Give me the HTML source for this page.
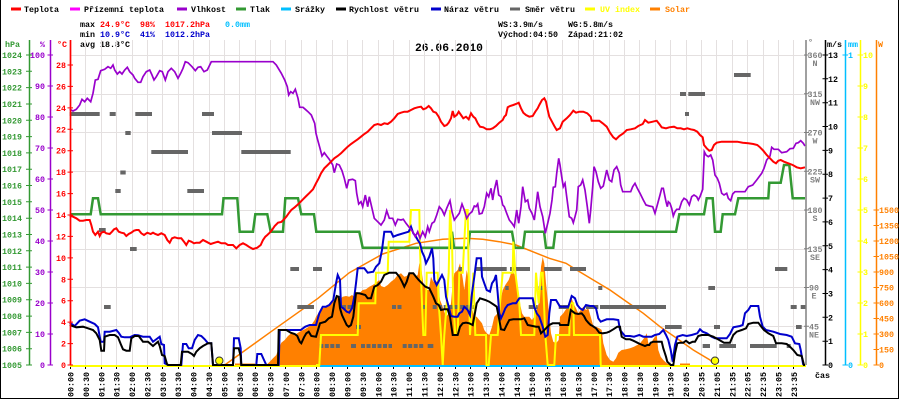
<!DOCTYPE html>
<html><head><meta charset="utf-8"><style>
html,body{margin:0;padding:0;background:#fff;}
svg{display:block;}
text{font-family:"Liberation Mono",monospace;font-size:8.33px;font-weight:bold;}
</style></head><body>
<svg width="900" height="400" viewBox="0 0 900 400" xmlns="http://www.w3.org/2000/svg">
<rect x="0" y="0" width="900" height="400" fill="#fff"/>
<path d="M0.5 0V398.5H898.5V0" fill="none" stroke="#000" stroke-width="1"/>

<g stroke-width="3">
<line x1="11" y1="9" x2="21" y2="9" stroke="#ff0000"/>
<line x1="70" y1="9" x2="80" y2="9" stroke="#ff00ff"/>
<line x1="177" y1="9" x2="187" y2="9" stroke="#9900cc"/>
<line x1="236" y1="9" x2="246" y2="9" stroke="#339933"/>
<line x1="281" y1="9" x2="291" y2="9" stroke="#00bfff"/>
<line x1="336" y1="9" x2="346" y2="9" stroke="#000"/>
<line x1="431" y1="9" x2="441" y2="9" stroke="#0000cc"/>
<line x1="510" y1="9" x2="520" y2="9" stroke="#666"/>
<line x1="585" y1="9" x2="595" y2="9" stroke="#ffff00"/>
<line x1="650" y1="9" x2="660" y2="9" stroke="#ff8000"/>
</g>
<g fill="#000">
<text x="24" y="12">Teplota</text>
<text x="84" y="12">Přízemní teplota</text>
<text x="191" y="12">Vlhkost</text>
<text x="250" y="12">Tlak</text>
<text x="295" y="12">Srážky</text>
<text x="349" y="12">Rychlost větru</text>
<text x="444" y="12">Náraz větru</text>
<text x="525" y="12">Směr větru</text>
<text x="600" y="12" fill="#ffff00">UV index</text>
<text x="665" y="12" fill="#ff8000">Solar</text>
</g>

<text x="80" y="27" xml:space="preserve">max <tspan fill="#ff0000">24.9°C  98%  1017.2hPa</tspan>   <tspan fill="#00bfff">0.0mm</tspan></text>
<text x="80" y="37" xml:space="preserve">min <tspan fill="#0000cc">10.9°C  41%  1012.2hPa</tspan></text>
<text x="80" y="47" xml:space="preserve">avg 18.8°C</text>
<text x="498" y="27" xml:space="preserve">WS:3.9m/s     WG:5.8m/s</text>
<text x="498" y="37" xml:space="preserve">Východ:04:50  Západ:21:02</text>
<text x="415" y="51" style="font-size:11.33px;font-weight:bold">26.06.2010</text>

<path d="M85.5 40V365M101.5 40V365M116.5 40V365M132.5 40V365M147.5 40V365M162.5 40V365M178.5 40V365M193.5 40V365M209.5 40V365M224.5 40V365M239.5 40V365M255.5 40V365M270.5 40V365M285.5 40V365M301.5 40V365M316.5 40V365M332.5 40V365M347.5 40V365M362.5 40V365M378.5 40V365M393.5 40V365M409.5 40V365M424.5 40V365M439.5 40V365M455.5 40V365M470.5 40V365M486.5 40V365M501.5 40V365M516.5 40V365M532.5 40V365M547.5 40V365M562.5 40V365M578.5 40V365M593.5 40V365M609.5 40V365M624.5 40V365M639.5 40V365M655.5 40V365M670.5 40V365M686.5 40V365M701.5 40V365M716.5 40V365M732.5 40V365M747.5 40V365M763.5 40V365M778.5 40V365M793.5 40V365
M70 55.5H806M70 94.5H806M70 132.5H806M70 171.5H806M70 210.5H806M70 249.5H806M70 287.5H806M70 326.5H806" stroke="#e4e0e0" stroke-width="1" fill="none"/>

<path d="M70.5 366V369M85.5 366V369M101.5 366V369M116.5 366V369M132.5 366V369M147.5 366V369M162.5 366V369M178.5 366V369M193.5 366V369M209.5 366V369M224.5 366V369M239.5 366V369M255.5 366V369M270.5 366V369M285.5 366V369M301.5 366V369M316.5 366V369M332.5 366V369M347.5 366V369M362.5 366V369M378.5 366V369M393.5 366V369M409.5 366V369M424.5 366V369M439.5 366V369M455.5 366V369M470.5 366V369M486.5 366V369M501.5 366V369M516.5 366V369M532.5 366V369M547.5 366V369M562.5 366V369M578.5 366V369M593.5 366V369M609.5 366V369M624.5 366V369M639.5 366V369M655.5 366V369M670.5 366V369M686.5 366V369M701.5 366V369M716.5 366V369M732.5 366V369M747.5 366V369M763.5 366V369M778.5 366V369M793.5 366V369" stroke="#000" stroke-width="1"/>

<polygon fill="#ff8000" points="264,365 266.3,365 269.7,361.7 273,358.3 276.3,355 278.7,348.3 281.3,342.7 284.7,340 288,336 291.3,333.3 294.7,335 298,332.7 301.3,330.7 304.7,329.3 308,327.3 311.3,325 314.7,320 316,316.7 319.3,311.7 322.7,308.3 327.7,306.7 331,303.3 334.3,300.7 336.7,295 340,299.3 342.7,296.7 346,296 349.3,296.7 352,295 354.3,296.7 356.7,291.7 359.3,293.3 362.7,290 366,289.3 369.3,286.7 372.7,285 376,282.7 379.3,280 381,286 384.3,287.3 387.7,285 391,281.7 394.3,279.3 397.7,275 401,273.3 404.3,276.7 406.7,276 409.3,272.7 412.7,274 415.3,276.7 417.7,275 419.3,263.3 421,266.7 423.3,283.3 426,290 428.7,290 431,276.7 433.3,281.7 435.3,280 437.7,283.3 440,300 442.7,306.7 446,316.7 448.7,313.3 451,303.3 452.7,283.3 454.3,273.3 456,271.7 457.7,270 460,263.3 462.7,278.3 464.3,290 466.7,270 468.7,280 470,293.3 472,308.3 474.3,316.7 476.7,316.7 479.3,320 482,323.3 484.3,330 486.7,333.3 489.3,335 492,326.7 494.3,316.7 497.7,313.3 501,298.3 502.7,290 505.3,285 508.7,280 511,273.3 512.7,270 515.3,276.7 517.7,290 520,303.3 522,313.3 524.3,316.7 526.7,316.7 529.3,316.7 532,320 534.3,316.7 536.7,310 538.7,303.3 541,266.7 542.7,256.7 544.3,263.3 546,283.3 547.7,300 549.3,316.7 551,333.3 553.3,341.7 556,343.3 558.7,340 560,316.7 563.3,313.3 566.7,308.3 570,303.3 571.7,298.3 573.3,303.3 576,308.3 578.3,313.3 580.7,310 583.3,306.7 586,310 588.3,308.3 590.7,316.7 593.3,326 596,326.7 599.3,328.3 601.7,330 603.3,343.3 606.7,355 610,360 613.3,361.7 616,358.3 618.3,352.7 621.7,350 626,349.3 630,348.3 634,346.7 637.3,345 640,343.3 642.7,340 645,336.7 646.7,333.3 648.3,343.3 650.7,345 652.7,340 655,336.7 656.7,335 658.3,350 660.7,356.7 663.3,360 666.7,363.3 670,365"/>
<rect x="235" y="363.5" width="20" height="1.5" fill="#ff8000"/>
<rect x="680" y="363.5" width="10" height="1.5" fill="#ff8000"/>

<polyline fill="none" stroke="#ff8000" stroke-width="1.5" points="224.7,365 271,331.7 318,298.3 349.3,272.7 382.7,254 416,243.3 442.7,239.3 466,238.3 482.7,239.3 499.3,241.7 516,245 532.7,251.7 549.3,258.3 566,263.3 576.7,270 593.3,280 610,290 626.7,301.7 643.3,313.3 660,326.7 676.7,338.3 693.3,350 710,360 715,365"/>

<g fill="#666">
<rect x="69.7" y="112" width="30" height="4"/><rect x="109.7" y="112" width="6" height="4"/><rect x="135.3" y="112" width="16.7" height="4"/><rect x="202" y="112" width="12" height="4"/>
<rect x="125.3" y="131" width="5.4" height="4"/><rect x="212" y="131" width="30" height="4"/>
<rect x="151.3" y="150" width="36.7" height="4"/><rect x="241.3" y="150" width="49.4" height="4"/>
<rect x="120.3" y="170.5" width="5.4" height="4"/><rect x="115.3" y="189" width="5.4" height="4"/><rect x="187.3" y="189" width="16.7" height="4"/>
<rect x="99" y="228" width="6.7" height="4"/><rect x="130" y="247" width="6.7" height="4"/>
<rect x="290.3" y="267" width="8.7" height="4"/><rect x="313" y="267" width="9" height="4"/><rect x="458.7" y="267" width="4" height="4"/><rect x="475.3" y="267" width="31.4" height="4"/><rect x="510" y="267" width="20" height="4"/><rect x="544" y="267" width="17.7" height="4"/><rect x="570" y="267" width="16" height="4"/><rect x="775" y="267" width="12.3" height="4"/>
<rect x="505.3" y="286" width="3.4" height="4"/><rect x="538.7" y="286" width="4" height="4"/><rect x="598.3" y="286" width="4" height="4"/><rect x="708.3" y="286" width="6.7" height="4"/>
<rect x="104" y="305" width="6.7" height="4"/><rect x="297.3" y="305" width="16.7" height="4"/><rect x="528.7" y="305" width="9" height="4"/><rect x="558.7" y="305" width="11.3" height="4"/><rect x="586" y="305" width="12.3" height="4"/><rect x="600" y="305" width="66" height="4"/><rect x="790.7" y="305" width="6" height="4"/><rect x="800.7" y="305" width="5.3" height="4"/>
<rect x="356" y="325" width="5" height="4"/><rect x="665" y="325" width="16.7" height="4"/><rect x="714" y="325" width="6" height="4"/><rect x="796" y="325" width="5.7" height="4"/>
<rect x="351" y="344" width="5" height="4"/><rect x="427.7" y="344" width="5.6" height="4"/><rect x="702.7" y="344" width="7.3" height="4"/><rect x="719.3" y="344" width="16.7" height="4"/><rect x="750" y="344" width="26.7" height="4"/><rect x="786.7" y="344" width="4" height="4"/>
<rect x="680" y="92" width="6" height="4"/><rect x="688.3" y="92" width="16.7" height="4"/><rect x="685" y="112" width="4" height="4"/><rect x="734" y="73" width="16.7" height="4"/>
</g>
<g stroke="#666" stroke-width="4" stroke-dasharray="4 1.5">
<line x1="342" y1="307" x2="352" y2="307"/><line x1="392" y1="307" x2="402" y2="307"/><line x1="422.7" y1="307" x2="427.7" y2="307"/><line x1="432.7" y1="307" x2="474.3" y2="307"/>
<line x1="319.3" y1="346" x2="340" y2="346"/><line x1="361" y1="346" x2="392" y2="346"/><line x1="402.7" y1="346" x2="423.3" y2="346"/>
</g>

<polyline fill="none" stroke="#339933" stroke-width="2.5" points="70,214.3 90.7,214.3 93,198.3 98,198.3 100.7,214.3 222,214.3 223.5,198.3 237.3,198.3 239.7,231.7 253,231.7 255.3,214.3 267.3,214.3 270.7,231.7 283,231.7 285.3,198.3 298,198.3 301.3,214.3 314,214.3 316.3,231.7 359.3,231.7 362.7,247.7 451,247.7 452,231.7 454,247.7 468,247.7 470,231.7 512,231.7 514.7,247.7 523,247.7 525,231.7 544,231.7 546,247.7 553.3,247.7 555.3,231.7 676,231.7 679.3,214.3 704,214.3 706.7,198.3 712.7,198.3 715,231.7 720.7,231.7 722.7,214.3 735,214.3 738.3,198.3 768.3,198.3 769.3,182.7 780.7,182.7 784,165 789.3,165 792.7,198.3 805,198.3"/>

<line x1="70" y1="366" x2="320" y2="366" stroke="#ffff00" stroke-width="2"/>
<line x1="320" y1="366" x2="600" y2="366" stroke="#00bfff" stroke-width="2"/>
<line x1="600" y1="366" x2="806" y2="366" stroke="#ffff00" stroke-width="2"/>

<polyline fill="none" stroke="#ffff00" stroke-width="2" points="316,365 319.3,365 321,335 357.7,335 358.7,303.3 375.3,303.3 376,272.7 387.7,272.7 388.7,241.7 409.3,241.7 411,210 419.3,210 420,250 422,303.3 423.3,335 425.3,335 426.7,272.7 437.7,272.7 438.7,303.3 441,335 442.7,365 444.3,335 446.7,303.3 448.7,272.7 450,210 452,241.7 453.3,303.3 455.3,335 457.7,335 459.3,272.7 462.7,272.7 464.3,241.7 466,210 467.7,210 468.7,272.7 470,335 472,303.3 473.3,272.7 475.3,335 486,335 486.5,365 488.7,365 491,335 497.7,335 500,303.3 502.7,272.7 512.7,272.7 513.3,241.7 515.3,272.7 519.3,303.3 521,335 534.3,335 536,272.7 538.7,303.3 541,272.7 542.7,272.7 545.3,335 547.7,365 554.3,365 556,335 569.3,335 570,303.3 573.3,303.3 574,335 600,335 600.7,365"/>

<polyline fill="none" stroke="#0000cc" stroke-width="2" points="69.7,322.7 74.7,326 79.7,320.7 84.7,319.3 89.7,321.7 94.7,324 98,327.3 100.7,341.7 104,341.7 104.7,331.7 109.7,331.7 116.3,330 118.7,332.7 121.3,336.7 124.7,337.3 129.7,337.3 134.7,335 138,335.3 143,336.7 149.7,336.7 153,341.7 155.3,340 159.7,336.7 161.3,344 164,345 164.7,363.3 168,365 181.3,365 183,344 186.3,344 188.7,348.3 192,348.3 194.7,340 198,335 201.3,336 204.7,339.3 208,343.3 211.3,343.3 213,365 233,365 234,338.3 238.7,338.3 240.7,348.3 241.3,365 256.3,365 257.3,354 261.3,354 264,360 266.3,365 278.7,365 279.7,330 300.7,330 303,328.3 305.3,326.7 309.7,325 316,325 319.3,313.3 322.7,306.7 326,306.7 329.3,305 333.3,300 336,283.3 337.7,275 340,280 341,306.7 343.3,308.3 346.7,311.7 349.3,312.7 352,308.3 354.3,296.7 356,283.3 357.7,268.3 364.3,268.3 367.7,272.7 373.3,271.7 376,266.7 379.3,263.3 382,250 384.3,231.7 391,231.7 393.3,236.7 397.7,235 405.3,232.7 408.7,231.7 411,226.7 413.3,233.3 416,236.7 417.7,240 420,243.3 422,251.7 424.3,256.7 426,263.3 429.3,256.7 432,248.3 433.3,258.3 434.3,280 436.7,285 439.3,280 442,275 444.3,280 446,296.7 448.7,306.7 451,316 454.3,316.7 457.7,316.7 459.3,313.3 462,311.7 464.3,306.7 467.7,310 470,315 472,293.3 474.3,276.7 476.7,258.3 481,258.3 482,276.7 484.3,283.3 486.7,290 490,291.7 492,283.3 494.3,280 496,275 497.7,293.3 499.3,313.3 501,318.3 503.3,313.3 505.3,308.3 507.7,305 512.7,303.3 516,303.3 519.3,298.3 532.7,298.3 534.3,306.7 536.7,313.3 539.3,316.7 542.7,326.7 545.3,336.7 547.7,335 549.3,313.3 551,300 556,300 560,306.7 565,306.7 568.3,306.7 571.7,296 575,298.3 577.3,305 580,308.3 582.7,310 586,305 590,306 593.3,306 596,308.3 598.3,318.3 600.7,321.7 606.7,319.3 613.3,319.3 618.3,320 620,330 625,336 630,336 634,336.7 639.3,335 643.3,336.7 647.3,336.7 651.7,336.7 655,335 659.3,334 663.3,330 666,335 668.3,340 670.7,350 672.7,361.7 675,345 677.3,336.7 682.7,335 686.7,336 691.7,335 697.3,333.3 700,329.3 702.7,331.7 706.7,333.3 711.7,336.7 715,338.3 721.7,338.3 726.7,338.3 730,334 733.3,327.3 740,326 742.7,325 745,313.3 748.3,310 750.7,306 758.3,306 760,316.7 762.7,326.7 766,330 773.3,331.7 780,334 786.7,335 791.7,336.7 795,343.3 799.3,344 800.7,350 802.7,361.7 803.3,365"/>

<polyline fill="none" stroke="#000" stroke-width="2" points="69.7,325 76.3,327.3 83,326.7 88,328.3 93,330 96.3,333.3 99.7,340 101.3,350.7 104,350.7 104.7,336.7 109.7,335 114.7,335 118,337.3 120.7,344 123,349.3 126.3,350.7 129.7,350.7 131.3,338.3 134.7,336 138.7,336 143,341.7 148,341.7 153,346 155.3,344 158,341.7 159.7,346 162,355 164.7,356 167,364 168,365 180.7,365 182,351.7 188,351.7 192,354 194,356 196.3,351.7 199.7,348.3 203,346 208,343.3 211.3,343.3 213,365 233,365 234,348.3 238.7,348.3 240.7,356 241.3,365 278,365 278.7,330 286.3,330 290.7,332.7 294.7,334 297.3,336 299.7,341.7 301.3,343.3 304,337.3 306.3,333.3 308.7,331.7 311.3,336 316,336.7 320,323.3 325.3,321.7 328.7,318.3 332,316.7 334.3,303.3 336.7,296 338.7,296.7 340,308.3 342,315 344.3,320 346.7,325 348.7,326.7 351,325 353.3,316.7 356,293.3 359.3,293.3 365.3,295 367.7,298.3 371,298.3 374.3,286.7 377.7,285 381,281.7 384.3,275 389.3,272.7 396,272.7 399.3,276.7 402,281.7 404.3,286.7 406.7,281.7 409.3,273.3 413.3,273.3 416,276.7 418.7,280 422,283.3 425.3,286.7 429.3,288.3 433.3,296.7 436,303.3 438.7,305 441,310 444.3,309.3 447.7,309.3 450,316.7 452.7,335 457.7,335 460,326.7 462.7,323.3 466,322.7 469.3,323.3 472.7,325 474.3,316.7 476.7,303.3 480,298.3 485.3,300 489.3,301.7 494.3,305 496.7,306.7 498.7,316.7 501,329.3 504.3,330 506.7,325 509.3,320 513.3,319.3 517.7,319.3 521,319.3 524.3,318.3 527.7,325 532.7,326 536,326.7 538.7,326.7 541,333.3 546,328.3 549.3,325 552.7,323.3 559.3,323.3 560,325 568.3,325 570.7,310 575,313.3 578.3,314 581.7,313.3 584,316 586,320 588.3,322.7 590.7,325 592.7,326 596,328.3 599.3,332.7 602.7,333.3 606.7,332.7 609.3,331.7 613.3,329.3 617.3,326.7 620,326.7 621.7,336.7 626,339.3 630,339.3 633.3,340.7 637.3,342.7 640,344 645,346 647.3,345 649.3,345 650.7,342.7 653.3,341.7 661.7,341.7 663.3,348.3 666,356.7 667.3,361.7 670.7,365 673.3,365 675,353.3 677.3,343.3 680,342.7 683.3,342.7 686,340.7 689.3,343.3 692.7,341.7 695,341.7 698.3,336 701.7,335 708.3,335 713.3,336.7 719.3,340 724,342.7 730,342.7 733.3,335 736.7,331.7 741.7,330 746,328.3 748.3,324 753.3,322.7 758.3,322.7 761.7,327.3 764,330 768.3,333.3 773.3,336 776,343.3 781.7,343.3 786.7,344 790,346.7 793.3,350 797.3,355 801.7,356 804,365 805,365"/>

<polyline fill="none" stroke="#9900cc" stroke-width="1.7" points="69.7,109.3 73,111 76.3,109.3 79.7,105 82,99.3 84.7,101.7 87.3,98.3 90.7,101.7 93,93.3 95.3,80 98,79.3 100.7,70.7 104.7,69.3 108,66.7 110.7,68.3 113,65 114.7,70 117.3,74 119.7,71.7 122,74 124.7,70 127.3,67.3 129.7,71.7 133,75 134.7,78.3 138,82.3 140.7,82.3 143,76.7 146.3,71.7 149.7,70 152,75 154,80 156.3,76.7 159.7,70.7 162.3,71.7 165.3,80 168,71.7 171.3,68.3 174.7,71.7 178,78.3 180.7,73.3 183,68.3 185.3,61.7 188,62.7 192,66.7 195.3,70.7 198,67.3 200.7,66.7 204,71.7 207.3,70 211.3,61.7 273,61.7 276.3,65 281.3,73.3 284.7,80 287.3,86.7 288.7,95 290.7,91.7 293,93.3 295.3,89.3 298,98.3 299.7,107.3 303,107.3 305.3,109.3 308,111.7 311.3,115 314.7,123.3 316,133.3 317.7,140 320,148.3 322,156 324.3,152.7 326.7,156 329.3,159.3 332.7,165 334.3,172.7 336.7,164 339.3,165 342,170.7 344.3,178.3 346.7,188.3 348.7,180 352.7,179.3 355.3,180.7 356.7,193.3 358.7,204 361,201.7 362.7,206.7 365.3,195 367.7,206.7 369.3,196.7 372,208.3 374.3,218.3 377.7,221.7 381,225 384.3,220 386.7,210.7 389.3,218.3 392.7,218.3 395.3,225 397.7,219.3 401,220 403.3,219.3 406,223.3 408.7,226.7 412.7,231.7 415.3,236.7 417.7,231.7 420,238.3 422.7,231.7 425.3,236.7 427.7,226.7 429.3,231.7 432,223.3 434.3,221.7 436.7,215 439.3,206.7 442,210 444.3,215 446.7,208.3 450,200.7 452,211.7 454.3,220 456.7,216.7 459.3,213.3 462,204 464.3,210 466.7,218.3 469.3,214 472,211.7 474.3,206 476,206.7 477.7,204 479.3,214 482,213.3 484.3,206.7 486.7,193.3 488.7,196.7 491,188.3 492.7,200 494.3,190 496.7,180 498.7,195 501,196.7 502.7,205 504.3,206.7 506.7,213.3 509.3,220 512,223.3 514.3,226.7 516.7,210 518.7,223.3 521,206.7 522.7,186.7 525.3,201.7 527.7,200 529.3,208.3 532,213.3 534.3,220 536,206.7 537.7,191.7 540,206.7 542.7,216.7 545.3,233.3 547.7,223.3 550,213.3 552,200 553.3,187.3 555.3,186.7 556.7,173.3 558.7,158.3 560,165 561.7,176.7 563.3,186.7 565,183.3 566.7,196.7 569.3,216.7 571.7,218.3 573.3,222.7 575,216.7 576.7,210 578.3,186.7 580.7,185 582.7,180 585,190 587.3,206.7 589.3,223.3 590.7,210 592.7,186.7 594,166.7 596,171.7 598.3,181.7 600.7,188.3 603.3,186 606.7,170 609.3,180 611.7,181.7 614,170 616.7,166.7 619.3,173.3 620.7,185 622.7,191.7 630.7,191.7 632.7,186.7 635,183.3 637.3,188.3 640,193.3 643.3,200 646,205 649.3,206 652.7,206.7 655,213.3 657.3,205 660,195 661.7,188.3 663.3,188.3 666,201.7 667.3,206.7 668.3,201.7 670,203.3 671.7,208.3 673.3,216 675,211.7 676.7,209.3 679.3,209.3 681.7,201.7 684,198.3 686.7,200 689.3,205 691.7,196.7 694,195 696.7,196.7 698.3,200 700,196.7 702.7,189.3 704.3,151.7 706,155 708.3,156.7 710.7,155 712.7,160 715,175 717.3,178.3 719.3,183.3 721.7,193.3 724,195 726.7,193.3 728.3,198.3 730.7,200.7 732.7,194 735,191.7 745,191.7 748.3,186.7 752.7,185 756.7,180 761.7,173.3 764,168.3 766.7,160 770,156 771.7,147.3 774,149.3 778.3,149.3 781.7,152.7 786.7,151.7 790,148.7 793.3,148.3 796,143.3 798.3,142.7 800.7,140.7 803.3,143.3 805,146"/>

<polyline fill="none" stroke="#ff0000" stroke-width="2" points="69.7,215.7 73,216.7 76.3,218.3 79.7,220.7 83,220.7 86.3,220 89.7,220 91.3,225 93,231.7 95.3,235 98,231.7 99.7,236 101.3,232.7 104,231.7 106.3,233.3 109.7,234 112,231.7 114,229.3 116.3,228.3 118.7,231.7 121.3,232.7 124,233.3 126.3,236 128.7,234 131.3,232.7 134,230.7 136.3,230 138.7,230 141.3,233.3 144,235 147.3,232.7 150.7,234 153,232.7 155.3,234 158,235 161.3,233.3 164.7,235 167.3,240 169.7,242.7 172,238.3 174.7,237.3 178,238.3 181.3,238.3 184,241.7 186.3,245 188.7,240.7 191.3,241.7 194,243.3 196.3,242.7 199.7,242.7 203,240 206.3,241.7 210.7,244 214.7,242.7 218,241.7 221.3,243.3 225.3,243.3 228,245 233,245 236.3,248.3 239.7,245 243,243.3 246.3,245 249.7,247.3 253,249 257.3,247.7 260.7,245 263,240 265.3,236.7 267.3,235 269.7,232.7 272,230 274.7,226 278,222.7 281.3,222 284,219.3 286.3,216.7 288.7,213.3 291.3,210 294.7,207.3 297.3,205 299.7,202.7 303,199.3 306.3,196 309.7,192.7 313,189.3 316,183.3 318.7,178.3 321,173.3 324.3,168.3 327.7,165 331,161.7 334.3,158.3 337.7,156 341,153.3 344.3,150 347.7,146.7 351,144 354.3,141.7 357.7,139.3 361,136.7 364.3,134 367.7,131.7 371,128.3 374.3,125 377.7,124 381,125 384.3,123.3 387.7,124 391,121.7 394.3,118.3 397.7,114 401,112.7 404.3,111.7 407.7,111.7 411,110 414.3,108.3 417.7,107.3 421,106.7 423.3,109.3 426,108.3 428.7,106 431,108.3 433.3,111.7 436,112.7 438.7,116.7 441,121.7 444.3,126 446.7,125 448.7,122.7 451,118.3 452.7,111 454.3,116.7 456.7,115 458.7,111.7 461,115 463.3,118.3 466,116.7 468.7,119.3 471,113.3 473.3,116.7 475.3,118.3 477.7,123.3 480,126.7 483.3,127.3 486.7,129.3 490,129.3 492.7,128.3 496,126 499.3,122.7 502.7,120 504.3,116.7 506,115 507.7,107.3 510,106 513.3,105 516,104 518.7,102.7 521,108.3 523.3,112.7 526,115 529.3,116.7 532.7,116 535.3,111.7 537.7,108.3 539.3,105 542,100 544.3,98.3 546,101.7 547.7,110 549.3,116.7 552,121.7 554.3,126 556.7,130 560,128.3 562.7,121.7 566.7,118.3 570,115 573.3,110.7 576,112.7 579.3,111.7 583.3,111.7 587.3,113.3 590.7,116.7 591.7,120.7 596,120.7 599.3,120.7 602.7,123.3 606.7,126.7 610,132.7 613.3,137.3 616,139.3 619.3,136 623.3,133.3 626.7,130 630.7,129.3 635,128.3 638.3,126 642.7,124 645,120 648.3,122.7 652.7,121.7 656.7,120.7 659.3,124 661.7,127.3 666,128.3 669.3,127.3 674,126.7 677.3,128.3 680.7,128.3 684,129.3 687.3,128.3 690.7,129.3 694,130 697.3,131.7 700,135 702.7,137.3 704,145 706.7,148.3 709.3,150.7 711.7,150 714,145 716.7,142.7 721.7,141.7 727.3,141.7 732.7,141.7 737.3,141.7 742.7,142.7 748.3,143.3 753.3,144 757.3,145 760,147.3 763.3,150.7 766.7,155 770,158.3 773.3,161.7 776,163.3 778.3,160.7 780.7,160 784,161.7 788.3,163.3 792.7,165 796.7,167.3 800.7,168.3 805,167.3"/>

<circle cx="219.3" cy="360.7" r="3.7" fill="#ffff00" stroke="#333" stroke-width="1"/>
<circle cx="715" cy="360.7" r="3.7" fill="#ffff00" stroke="#333" stroke-width="1"/>

<line x1="29.5" y1="40" x2="29.5" y2="365" stroke="#339933" stroke-width="1.5"/>
<line x1="50.5" y1="40" x2="50.5" y2="365" stroke="#9900cc" stroke-width="1.5"/>
<line x1="70.5" y1="40" x2="70.5" y2="365" stroke="#ff0000" stroke-width="1.7"/>
<line x1="806" y1="40" x2="806" y2="365" stroke="#808080" stroke-width="1.5"/>
<line x1="825.5" y1="40" x2="825.5" y2="365" stroke="#000" stroke-width="1.5"/>
<line x1="845.5" y1="40" x2="845.5" y2="365" stroke="#00bfff" stroke-width="1.5"/>
<line x1="860.5" y1="40" x2="860.5" y2="365" stroke="#ffff00" stroke-width="1.5"/>
<line x1="876.5" y1="40" x2="876.5" y2="365" stroke="#ff8000" stroke-width="1.5"/>

<path d="M26 55H32M26 71.3H32M26 87.6H32M26 104H32M26 120.3H32M26 136.6H32M26 152.9H32M26 169.2H32M26 185.5H32M26 201.8H32M26 218.2H32M26 234.5H32M26 250.8H32M26 267.1H32M26 283.4H32M26 299.7H32M26 316.1H32M26 332.4H32M26 348.7H32M26 365H32" stroke="#339933" stroke-width="1"/>
<path d="M47.5 55H53M47.5 86H53M47.5 117H53M47.5 148H53M47.5 179H53M47.5 210H53M47.5 241H53M47.5 272H53M47.5 303H53M47.5 334H53M47.5 365H53" stroke="#9900cc" stroke-width="1"/>
<path d="M67.5 65H73M67.5 86.4H73M67.5 107.9H73M67.5 129.3H73M67.5 150.7H73M67.5 172.1H73M67.5 193.6H73M67.5 215H73M67.5 236.4H73M67.5 257.9H73M67.5 279.3H73M67.5 300.7H73M67.5 322.1H73M67.5 343.6H73M67.5 365H73" stroke="#ff0000" stroke-width="1"/>
<path d="M804 55H809M804 93.8H809M804 132.5H809M804 171.3H809M804 210H809M804 248.8H809M804 287.5H809M804 326.3H809" stroke="#808080" stroke-width="1"/>
<path d="M822.5 55H828M822.5 78.8H828M822.5 102.7H828M822.5 126.5H828M822.5 150.4H828M822.5 174.2H828M822.5 198.1H828M822.5 221.9H828M822.5 245.8H828M822.5 269.6H828M822.5 293.5H828M822.5 317.3H828M822.5 341.2H828M822.5 365H828" stroke="#000" stroke-width="1"/>
<path d="M842.5 55H848M842.5 365H848" stroke="#00bfff" stroke-width="1"/>
<path d="M857.5 55H863M857.5 86H863M857.5 117H863M857.5 148H863M857.5 179H863M857.5 210H863M857.5 241H863M857.5 272H863M857.5 303H863M857.5 334H863M857.5 365H863" stroke="#ffff00" stroke-width="1"/>
<path d="M873.5 210H879M873.5 225.5H879M873.5 241H879M873.5 256.5H879M873.5 272H879M873.5 287.5H879M873.5 303H879M873.5 318.5H879M873.5 334H879M873.5 349.5H879M873.5 365H879" stroke="#ff8000" stroke-width="1"/>

<text x="5" y="47" fill="#339933">hPa</text>
<text x="40" y="47" fill="#9900cc">%</text>
<text x="57" y="47" fill="#ff0000">°C</text>
<text x="808" y="45" fill="#808080">°</text>
<text x="827" y="47" fill="#000">m/s</text>
<text x="848" y="47" fill="#00bfff">mm</text>
<text x="878" y="47" fill="#ff8000">W</text>

<g fill="#339933" text-anchor="end">
<text x="22" y="58">1024</text><text x="22" y="74.3">1023</text><text x="22" y="90.6">1022</text><text x="22" y="107">1021</text><text x="22" y="123.3">1020</text><text x="22" y="139.6">1019</text><text x="22" y="155.9">1018</text><text x="22" y="172.2">1017</text><text x="22" y="188.5">1016</text><text x="22" y="204.8">1015</text><text x="22" y="221.2">1014</text><text x="22" y="237.5">1013</text><text x="22" y="253.8">1012</text><text x="22" y="270.1">1011</text><text x="22" y="286.4">1010</text><text x="22" y="302.7">1009</text><text x="22" y="319.1">1008</text><text x="22" y="335.4">1007</text><text x="22" y="351.7">1006</text><text x="22" y="368">1005</text>
</g>
<g fill="#9900cc" text-anchor="end">
<text x="45" y="58">100</text><text x="45" y="89">90</text><text x="45" y="120">80</text><text x="45" y="151">70</text><text x="45" y="182">60</text><text x="45" y="213">50</text><text x="45" y="244">40</text><text x="45" y="275">30</text><text x="45" y="306">20</text><text x="45" y="337">10</text><text x="45" y="368">0</text>
</g>
<g fill="#ff0000" text-anchor="end">
<text x="66" y="68">28</text><text x="66" y="89.4">26</text><text x="66" y="110.9">24</text><text x="66" y="132.3">22</text><text x="66" y="153.7">20</text><text x="66" y="175.1">18</text><text x="66" y="196.6">16</text><text x="66" y="218">14</text><text x="66" y="239.4">12</text><text x="66" y="260.9">10</text><text x="66" y="282.3">8</text><text x="66" y="303.7">6</text><text x="66" y="325.1">4</text><text x="66" y="346.6">2</text><text x="66" y="368">0</text>
</g>

<g fill="#808080" text-anchor="middle">
<text x="815" y="58">360</text><text x="815" y="66">N</text>
<text x="815" y="96.8">315</text><text x="815" y="104.8">NW</text>
<text x="815" y="135.5">270</text><text x="815" y="143.5">W</text>
<text x="815" y="174.3">225</text><text x="815" y="182.3">SW</text>
<text x="815" y="213">180</text><text x="815" y="221">S</text>
<text x="815" y="251.8">135</text><text x="815" y="259.8">SE</text>
<text x="814" y="290.5">90</text><text x="814" y="298.5">E</text>
<text x="814" y="329.3">45</text><text x="814" y="337.3">NE</text>
</g>
<g fill="#000">
<text x="828" y="58">13</text><text x="828" y="81.8">12</text><text x="828" y="105.7">11</text><text x="828" y="129.5">10</text><text x="828" y="153.4">9</text><text x="828" y="177.2">8</text><text x="828" y="201.1">7</text><text x="828" y="224.9">6</text><text x="828" y="248.8">5</text><text x="828" y="272.6">4</text><text x="828" y="296.5">3</text><text x="828" y="320.3">2</text><text x="828" y="344.2">1</text><text x="828" y="368">0</text>
</g>
<g fill="#00bfff"><text x="848" y="58">1</text><text x="848" y="368">0</text></g>
<g fill="#ffff00">
<text x="863" y="58">10</text><text x="863" y="89">9</text><text x="863" y="120">8</text><text x="863" y="151">7</text><text x="863" y="182">6</text><text x="863" y="213">5</text><text x="863" y="244">4</text><text x="863" y="275">3</text><text x="863" y="306">2</text><text x="863" y="337">1</text><text x="863" y="368">0</text>
</g>
<g fill="#ff8000">
<text x="879" y="213">1500</text><text x="879" y="228.5">1350</text><text x="879" y="244">1200</text><text x="879" y="259.5">1050</text><text x="879" y="275">900</text><text x="879" y="290.5">750</text><text x="879" y="306">600</text><text x="879" y="321.5">450</text><text x="879" y="337">300</text><text x="879" y="352.5">150</text><text x="879" y="368">0</text>
</g>
<text x="815" y="378" fill="#000">čas</text>

<g fill="#000">
<text transform="translate(73.5,397) rotate(-90)">00:00</text>
<text transform="translate(88.9,397) rotate(-90)">00:30</text>
<text transform="translate(104.3,397) rotate(-90)">01:00</text>
<text transform="translate(119.7,397) rotate(-90)">01:30</text>
<text transform="translate(135.1,397) rotate(-90)">02:00</text>
<text transform="translate(150.5,397) rotate(-90)">02:30</text>
<text transform="translate(165.8,397) rotate(-90)">03:00</text>
<text transform="translate(181.2,397) rotate(-90)">03:30</text>
<text transform="translate(196.6,397) rotate(-90)">04:00</text>
<text transform="translate(212,397) rotate(-90)">04:30</text>
<text transform="translate(227.4,397) rotate(-90)">05:00</text>
<text transform="translate(242.8,397) rotate(-90)">05:30</text>
<text transform="translate(258.2,397) rotate(-90)">06:00</text>
<text transform="translate(273.6,397) rotate(-90)">06:30</text>
<text transform="translate(289,397) rotate(-90)">07:00</text>
<text transform="translate(304.4,397) rotate(-90)">07:30</text>
<text transform="translate(319.7,397) rotate(-90)">08:00</text>
<text transform="translate(335.1,397) rotate(-90)">08:30</text>
<text transform="translate(350.5,397) rotate(-90)">09:00</text>
<text transform="translate(365.9,397) rotate(-90)">09:30</text>
<text transform="translate(381.3,397) rotate(-90)">10:00</text>
<text transform="translate(396.7,397) rotate(-90)">10:30</text>
<text transform="translate(412.1,397) rotate(-90)">11:00</text>
<text transform="translate(427.5,397) rotate(-90)">11:30</text>
<text transform="translate(442.9,397) rotate(-90)">12:00</text>
<text transform="translate(458.3,397) rotate(-90)">12:30</text>
<text transform="translate(473.6,397) rotate(-90)">13:00</text>
<text transform="translate(489,397) rotate(-90)">13:30</text>
<text transform="translate(504.4,397) rotate(-90)">14:00</text>
<text transform="translate(519.8,397) rotate(-90)">14:30</text>
<text transform="translate(535.2,397) rotate(-90)">15:00</text>
<text transform="translate(550.6,397) rotate(-90)">15:30</text>
<text transform="translate(566,397) rotate(-90)">16:00</text>
<text transform="translate(581.4,397) rotate(-90)">16:30</text>
<text transform="translate(596.8,397) rotate(-90)">17:00</text>
<text transform="translate(612.2,397) rotate(-90)">17:30</text>
<text transform="translate(627.5,397) rotate(-90)">18:00</text>
<text transform="translate(642.9,397) rotate(-90)">18:30</text>
<text transform="translate(658.3,397) rotate(-90)">19:00</text>
<text transform="translate(673.7,397) rotate(-90)">19:30</text>
<text transform="translate(689.1,397) rotate(-90)">20:05</text>
<text transform="translate(704.5,397) rotate(-90)">20:35</text>
<text transform="translate(719.9,397) rotate(-90)">21:05</text>
<text transform="translate(735.3,397) rotate(-90)">21:35</text>
<text transform="translate(750.7,397) rotate(-90)">22:05</text>
<text transform="translate(766.1,397) rotate(-90)">22:35</text>
<text transform="translate(781.4,397) rotate(-90)">23:05</text>
<text transform="translate(796.8,397) rotate(-90)">23:35</text>
</g>
</svg>
</body></html>
